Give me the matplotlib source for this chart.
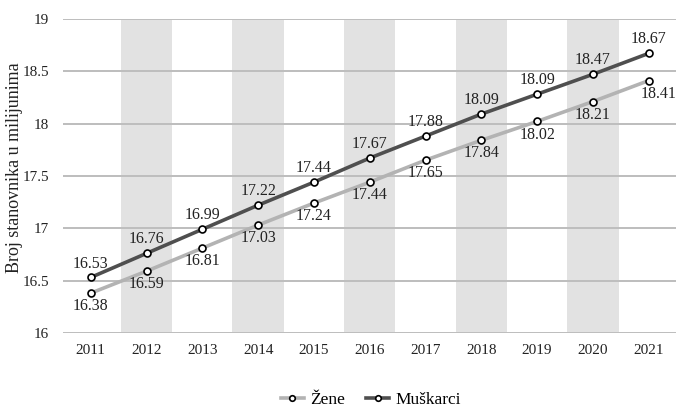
import numpy as np
import matplotlib.pyplot as plt

plt.rcParams['font.family'] = ['Liberation Serif', 'DejaVu Serif']

# data
years = [2011, 2012, 2013, 2014, 2015, 2016, 2017, 2018, 2019, 2020, 2021]
zene = [16.38, 16.59, 16.81, 17.03, 17.24, 17.44, 17.65, 17.84, 18.02, 18.21, 18.41]
muskarci = [16.53, 16.76, 16.99, 17.22, 17.44, 17.67, 17.88, 18.09, 18.28, 18.47, 18.67]
# labels as printed on the chart (2019 label repeats 18.09)
muskarci_labels = ['16.53', '16.76', '16.99', '17.22', '17.44', '17.67', '17.88',
                   '18.09', '18.09', '18.47', '18.67']
zene_labels = ['%.2f' % v for v in zene]
shaded_years = [2012, 2014, 2016, 2018, 2020]

fig = plt.figure(figsize=(6.76, 4.09), dpi=100)
ax = fig.add_axes([0.093, 0.186, 0.912, 0.768])

x = np.arange(len(years))
idx = {y: i for i, y in enumerate(years)}

# alternating bands
for yr in shaded_years:
    ax.axvspan(idx[yr] - 0.46, idx[yr] + 0.46, color='#e2e2e2', zorder=0, lw=0)

ax.set_ylim(16, 19)
ax.set_yticks(np.arange(16, 19.01, 0.5))
ax.set_yticklabels(['16', '16.5', '17', '17.5', '18', '18.5', '19'])
ax.yaxis.grid(True, color='#bdbdbd', lw=1.4, zorder=1)
ax.set_axisbelow(True)
ax.set_xlim(-0.5, len(years) - 0.45)
ax.set_xticks(x)
ax.set_xticklabels([str(y) for y in years])

for s in ax.spines.values():
    s.set_visible(False)
ax.tick_params(length=0, labelsize=11, colors='#222222', pad=8)
ax.tick_params(axis='y', pad=10)

mk = dict(marker='o', markersize=5, markerfacecolor='white',
          markeredgecolor='black', markeredgewidth=1.2)
ax.plot(x, zene, color='#b3b3b3', lw=2.6, zorder=3, label='Žene', **mk)
ax.plot(x, muskarci, color='#4f4f4f', lw=2.6, zorder=4, label='Muškarci', **mk)

for i in x:
    ax.annotate(muskarci_labels[i], (i, muskarci[i]), xytext=(0, 10),
                textcoords='offset points', ha='center', va='center',
                fontsize=11.5, color='#222222')
    dx = 7 if i == len(years) - 1 else 0
    ax.annotate(zene_labels[i], (i, zene[i]), xytext=(dx, -9.5),
                textcoords='offset points', ha='center', va='center',
                fontsize=11.5, color='#222222')

ax.set_ylabel('Broj stanovnika u milijunima', fontsize=13, color='#222222')
ax.yaxis.set_label_coords(-0.064, 0.525)

ax.legend(loc='center', bbox_to_anchor=(0.5, -0.213), ncol=2, frameon=False,
          fontsize=12.5, handlelength=1.3, handletextpad=0.4, columnspacing=1.2,
          markerscale=0.8)

fig.savefig('out.png', dpi=100)
